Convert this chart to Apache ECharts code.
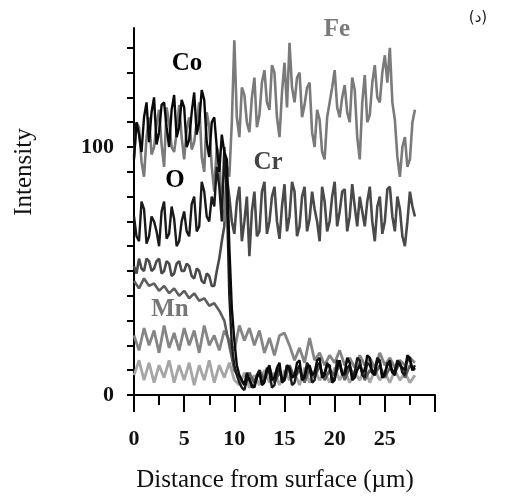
<!DOCTYPE html>
<html><head><meta charset="utf-8">
<script src="https://cdn.jsdelivr.net/npm/echarts@6/dist/echarts.min.js"></script>
<style>html,body{margin:0;padding:0;background:#fff}#c{width:528px;height:498px}</style>
</head><body><div id="c"></div>
<script>
// distances (µm) at 0.5 µm and 0.25 µm sampling
const distance = [0,0.5,1,1.5,2,2.5,3,3.5,4,4.5,5,5.5,6,6.5,7,7.5,8,8.5,9,9.5,10,10.5,11,11.5,12,12.5,13,13.5,14,14.5,15,15.5,16,16.5,17,17.5,18,18.5,19,19.5,20,20.5,21,21.5,22,22.5,23,23.5,24,24.5,25,25.5,26,26.5,27,27.5,28];
const distanceFine = [0,0.25,0.5,0.75,1,1.25,1.5,1.75,2,2.25,2.5,2.75,3,3.25,3.5,3.75,4,4.25,4.5,4.75,5,5.25,5.5,5.75,6,6.25,6.5,6.75,7,7.25,7.5,7.75,8,8.25,8.5,8.75,9,9.25,9.5,9.75,10,10.25,10.5,10.75,11,11.25,11.5,11.75,12,12.25,12.5,12.75,13,13.25,13.5,13.75,14,14.25,14.5,14.75,15,15.25,15.5,15.75,16,16.25,16.5,16.75,17,17.25,17.5,17.75,18,18.25,18.5,18.75,19,19.25,19.5,19.75,20,20.25,20.5,20.75,21,21.25,21.5,21.75,22,22.25,22.5,22.75,23,23.25,23.5,23.75,24,24.25,24.5,24.75,25,25.25,25.5,25.75,26,26.25,26.5,26.75,27,27.25,27.5,27.75,28];

const fe = [96,110,108,94,88,104,112,97,100,109,115,101,92,116,110,100,98,106,117,104,95,107,112,99,102,110,118,96,90,114,108,92,82,100,96,75,70,92,88,110,143,112,104,124,121,110,106,120,128,108,113,126,131,118,115,133,130,112,104,122,134,116,142,124,118,128,130,112,117,124,126,106,100,115,111,98,95,112,118,124,131,116,112,120,125,114,110,128,123,104,95,118,129,110,113,126,133,120,118,130,137,126,140,118,111,96,88,100,104,92,95,110,115];
const co = [95,110,105,98,112,118,102,114,120,101,106,117,118,108,100,115,121,104,108,119,116,100,103,114,122,105,110,123,119,102,96,110,112,100,90,105,98,95,60,35,22,12,8,6,4,9,6,4,3,7,9,4,5,10,12,6,7,11,13,5,6,12,11,7,8,13,14,6,7,11,12,8,9,14,15,7,8,12,12,5,6,11,14,8,9,15,13,6,7,10,12,9,10,16,15,9,8,14,13,7,9,12,14,9,8,13,12,11,10,16,15,10,11];
const oxy = [72,64,62,78,75,61,64,72,70,66,60,74,78,63,65,76,71,60,62,70,74,66,64,77,80,66,68,86,82,72,70,80,76,92,84,70,100,80,40,20,12,8,5,3,2,6,7,3,4,8,10,5,6,11,9,3,4,9,11,6,7,12,10,4,5,10,12,7,8,13,11,5,6,12,13,8,9,13,11,6,7,14,13,9,8,11,12,7,9,15,14,8,7,13,12,9,10,15,14,7,8,13,12,9,10,14,13,9,8,15,14,10,12];
const cr = [52,49,55,51,50,55,54,50,51,54,55,49,50,54,53,48,49,53,54,50,50,53,52,48,47,51,50,46,45,49,48,44,44,50,55,62,68,88,80,70,65,78,84,62,70,80,56,74,82,64,66,82,86,65,70,80,84,70,63,76,85,66,72,86,82,64,68,80,84,66,71,82,75,70,62,84,78,66,70,80,86,68,74,82,83,66,72,85,76,68,80,74,68,78,84,70,62,76,80,65,70,83,84,72,66,80,75,64,60,70,82,76,72];
const unlabeledB = [46,43,47,44,45,42,44,41,43,40,42,39,41,38,39,36,37,34,30,20,10,7,4,9,5,10,6,11,5,9,6,12,7,10,5,11,7,12,6,10,8,12,6,11,8,13,6,10,8,12,7,11,9,13,7,12,10];
const mn = [24,18,27,20,26,17,28,19,25,18,27,20,26,17,28,20,24,18,26,22,18,28,22,27,20,26,17,23,16,24,25,20,14,19,13,23,14,17,12,16,13,18,12,15,11,16,12,15,11,17,12,15,11,14,12,15,13];
const unlabeledD = [8,14,6,13,5,12,7,14,5,12,6,13,4,12,6,14,5,12,7,13,6,4,9,3,8,4,10,5,9,4,10,6,9,4,11,5,10,6,9,5,11,6,10,5,9,6,11,5,10,6,9,5,10,6,9,5,8];

const yTicks = [0,10,20,30,40,50,60,70,80,90,100,110,120,130,140];
const yLabels = [0,100];
const xLabels = [0,5,10,15,20,25];

const serif = '"Liberation Serif","DejaVu Serif",serif';
function pts(xs, vals){ return xs.map((d,i)=>[d, vals[i]]); }
function line(name, xs, vals, color, w){
  return {name, type:'line', data: pts(xs, vals), showSymbol:false, symbol:'none',
    lineStyle:{color, width:w}, itemStyle:{color}, animation:false, z:2};
}
const chart = echarts.init(document.getElementById('c'));
chart.setOption({
  backgroundColor:'#fff',
  animation:false,
  grid:{left:134, right:93, top:28, bottom:103},
  xAxis:{type:'value', min:0, max:30, interval:5,
    axisLine:{lineStyle:{color:'#000', width:2}},
    axisTick:{inside:false, length:17, lineStyle:{color:'#000', width:2}},
    minorTick:{show:true, splitNumber:2, length:10, lineStyle:{color:'#000', width:2}},
    splitLine:{show:false}, minorSplitLine:{show:false},
    axisLabel:{margin:33, color:'#111', fontFamily:serif, fontSize:22, fontWeight:'bold',
      formatter:v=> xLabels.indexOf(v)>=0 ? String(v) : ''}
  },
  yAxis:{type:'value', min:0, max:148, interval:10,
    axisLine:{lineStyle:{color:'#000', width:2}},
    axisTick:{inside:false, length:7, customValues:yTicks, lineStyle:{color:'#000', width:2}},
    splitLine:{show:false},
    axisLabel:{margin:20, color:'#111', fontFamily:serif, fontSize:22, fontWeight:'bold',
      customValues:yLabels, formatter:v=> yLabels.indexOf(v)>=0 ? String(v) : ''}
  },
  series:[
    line('unlabeledD', distance, unlabeledD, '#a6a6a6', 2.8),
    line('Mn', distance, mn, '#858585', 2.8),
    line('unlabeledB', distance, unlabeledB, '#5e5e5e', 2.6),
    line('Cr', distanceFine, cr, '#4a4a4a', 2.6),
    line('Fe', distanceFine, fe, '#7a7a7a', 2.6),
    line('O', distanceFine, oxy, '#1a1a1a', 2.4),
    line('Co', distanceFine, co, '#0a0a0a', 2.4)
  ],
  graphic:[
    {type:'text', x:24, y:172, rotation:Math.PI/2, style:{text:'Intensity', font:'25px '+serif, fill:'#111', align:'center', verticalAlign:'middle'}},
    {type:'text', x:275, y:480, style:{text:'Distance from surface (µm)', font:'25px '+serif, fill:'#111', align:'center', verticalAlign:'middle'}},
    {type:'text', x:337, y:30, style:{text:'Fe', font:'bold 25px '+serif, fill:'#7a7a7a', align:'center', verticalAlign:'middle'}},
    {type:'text', x:187, y:64, style:{text:'Co', font:'bold 25px '+serif, fill:'#000', align:'center', verticalAlign:'middle'}},
    {type:'text', x:268, y:163, style:{text:'Cr', font:'bold 25px '+serif, fill:'#444', align:'center', verticalAlign:'middle'}},
    {type:'text', x:175, y:181, style:{text:'O', font:'bold 25px '+serif, fill:'#000', align:'center', verticalAlign:'middle'}},
    {type:'text', x:170, y:310, style:{text:'Mn', font:'bold 25px '+serif, fill:'#777', align:'center', verticalAlign:'middle'}},
    {type:'text', x:478, y:18, style:{text:'(د)', font:'15px "DejaVu Sans",sans-serif', fill:'#222', align:'center', verticalAlign:'middle'}}
  ]
});
</script></body></html>
